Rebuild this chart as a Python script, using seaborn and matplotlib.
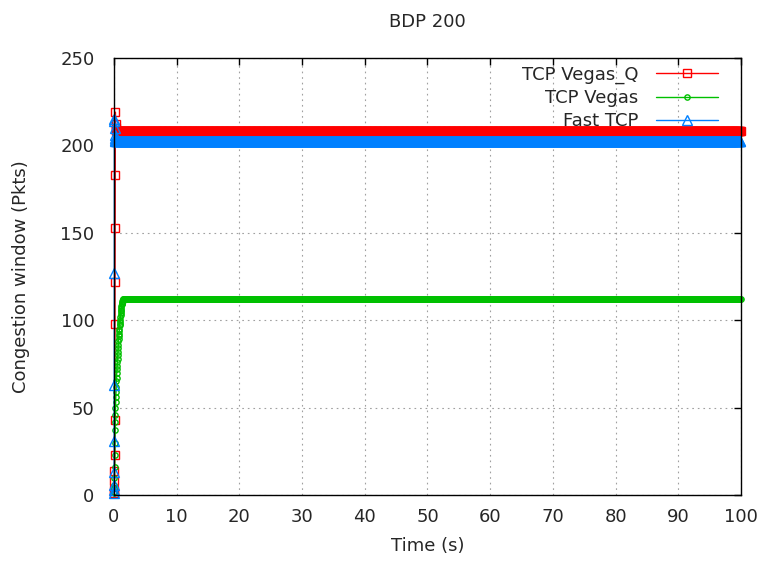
import numpy as np
import pandas as pd
import matplotlib
matplotlib.use("Agg")
import matplotlib.pyplot as plt
import seaborn as sns

sns.set_theme(style="white")
plt.rcParams["font.family"] = ["DejaVu Sans"]

# --- data -------------------------------------------------------------
series_names = ["TCP Vegas_Q", "TCP Vegas", "Fast TCP"]
series_colors = ["#ff0000", "#00c000", "#0080ff"]

# slow-start ramps (time in s, window in packets)
vegas_q_ramp_t = [0.02, 0.04, 0.06, 0.08, 0.10, 0.12, 0.14, 0.16, 0.18,
                  0.20, 0.22, 0.24, 0.26, 0.28]
vegas_q_ramp_w = [1, 3, 8, 14, 23, 43, 98, 122, 153, 183, 219, 212, 210, 209]

vegas_ramp_t = [0.00, 0.02, 0.04, 0.06, 0.08, 0.10, 0.12, 0.14, 0.16, 0.18,
                0.20, 0.23, 0.26, 0.29, 0.32, 0.35, 0.38, 0.41, 0.44, 0.47,
                0.50, 0.53, 0.56, 0.59, 0.62, 0.65, 0.68, 0.71, 0.74, 0.77,
                0.80, 0.83, 0.86, 0.89, 0.92, 0.95, 0.98, 1.01, 1.04, 1.07,
                1.10, 1.13, 1.16, 1.19, 1.22, 1.25, 1.28, 1.31, 1.34, 1.37,
                1.40]
vegas_ramp_w = [1, 2, 4, 6, 10, 16, 23, 30, 37, 42, 46, 50, 53, 56, 59, 62,
                65, 67, 70, 72, 74, 76, 78, 80, 82, 84, 86, 88, 89, 91, 92,
                94, 95, 97, 98, 99, 100, 102, 103, 104, 105, 106, 107, 108,
                109, 109, 110, 110, 111, 111, 112]

fast_ramp_t = [0.00, 0.01, 0.02, 0.03, 0.04, 0.05, 0.06, 0.07, 0.08, 0.09,
               0.10, 0.11, 0.12]
fast_ramp_w = [1, 3, 6, 13, 31, 63, 127, 215, 214, 210, 206, 204, 203]

# steady-state windows after the ramp
vegas_q_steady = 208.5
vegas_steady = 112.0
fast_steady = 202.5

sample_step = 0.1
end_time = 100.0

x_ticks = [0, 10, 20, 30, 40, 50, 60, 70, 80, 90, 100]
y_ticks = [0, 50, 100, 150, 200, 250]


def trace(ramp_t, ramp_w, steady):
    t_tail = np.arange(ramp_t[-1] + sample_step, end_time + 1e-9, sample_step)
    t = np.concatenate([ramp_t, t_tail])
    w = np.concatenate([ramp_w, np.full(len(t_tail), steady)])
    return t, w


frames = []
for name, (rt, rw, st) in zip(
        series_names,
        [(vegas_q_ramp_t, vegas_q_ramp_w, vegas_q_steady),
         (vegas_ramp_t, vegas_ramp_w, vegas_steady),
         (fast_ramp_t, fast_ramp_w, fast_steady)]):
    t, w = trace(rt, rw, st)
    frames.append(pd.DataFrame({"time": t, "cwnd": w, "flow": name}))
data = pd.concat(frames, ignore_index=True)

# --- figure -----------------------------------------------------------
fig = plt.figure(figsize=(7.61, 5.64), dpi=100)
ax = fig.add_axes([0.1498, 0.1223, 0.8239, 0.7749])

markers = ["s", "o", "^"]
msizes = [6, 3.8, 6.5]
text_color = "#262626"

for name, color, mk, ms in zip(series_names, series_colors, markers, msizes):
    sub = data[data["flow"] == name]
    sns.lineplot(data=sub, x="time", y="cwnd", ax=ax, color=color,
                 linewidth=1.0, marker=mk, markersize=ms,
                 markerfacecolor="none", markeredgecolor=color,
                 markeredgewidth=1.0, sort=False, estimator=None,
                 label=name, clip_on=False, zorder=2)

ax.set_xlim(0, 100)
ax.set_ylim(0, 250)
ax.set_xticks(x_ticks)
ax.set_yticks(y_ticks)

ax.grid(True, color="#a0a0a0", linestyle=(0, (1.5, 3.5)), linewidth=0.8,
        zorder=0)
ax.set_axisbelow(True)
for s in ax.spines.values():
    s.set_color("black")
    s.set_linewidth(1.0)
    s.set_visible(True)
    s.set_zorder(4)

ax.tick_params(axis="both", which="major", direction="in", length=5,
               width=1, color="black", top=True, right=True,
               labelsize=13, labelcolor=text_color)
ax.tick_params(axis="x", pad=9)
ax.tick_params(axis="y", pad=14)

ax.set_xlabel("Time (s)", fontsize=13, color=text_color, labelpad=8)
ax.set_ylabel("Congestion window (Pkts)", fontsize=13, color=text_color,
              labelpad=22)
ax.set_title("BDP 200", fontsize=13, color=text_color, pad=22)

leg = ax.legend(loc="upper right", frameon=False, markerfirst=False,
                fontsize=13, handlelength=3.4, handletextpad=1.0,
                labelspacing=0.3, borderaxespad=0.3,
                bbox_to_anchor=(0.983, 1.012))
for txt in leg.get_texts():
    txt.set_color(text_color)

fig.savefig("out.png", dpi=100)
